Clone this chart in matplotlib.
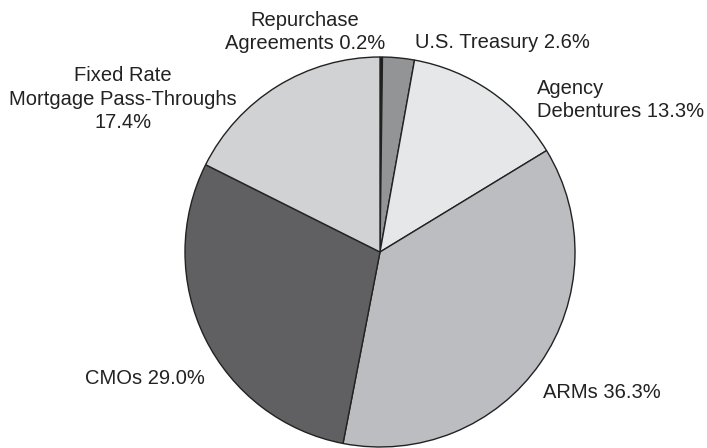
import matplotlib
matplotlib.use('Agg')
import matplotlib.pyplot as plt

# 投资组合构成
labels = ['Repurchase\nAgreements 0.2%', 'U.S. Treasury 2.6%', 'Agency\nDebentures 13.3%',
          'ARMs 36.3%', 'CMOs 29.0%', 'Fixed Rate\nMortgage Pass-Throughs\n17.4%']
shares = [0.2, 2.6, 13.3, 36.3, 29.0, 17.4]
colors = ['#1c1c1c', '#939495', '#e6e7e8', '#bcbdc0', '#606062', '#d1d2d4']

# 标签位置（像素坐标, y向上）及对齐方式
label_pos = [(305, 416, 'center'), (415, 406, 'left'), (537, 348, 'left'),
             (543, 56, 'left'), (85, 70, 'left'), (123, 349, 'center')]

plt.rcParams['font.family'] = ['Liberation Sans', 'DejaVu Sans']

fig = plt.figure(figsize=(7.07, 4.48), dpi=100)
ax = fig.add_axes([0, 0, 1, 1])

ax.pie(shares, colors=colors, startangle=90, counterclock=False,
       center=(380, 196), radius=195, frame=True,
       wedgeprops=dict(edgecolor='#222222', linewidth=1.0))
ax.set_xlim(0, 707)
ax.set_ylim(0, 448)
ax.set_aspect('equal')
ax.axis('off')

for text, (x, y, ha) in zip(labels, label_pos):
    ax.text(x, y, text, fontsize=14.5, ha=ha, va='center', color='#222222',
            linespacing=1.3)

fig.savefig('out.png', dpi=100, facecolor='white')
